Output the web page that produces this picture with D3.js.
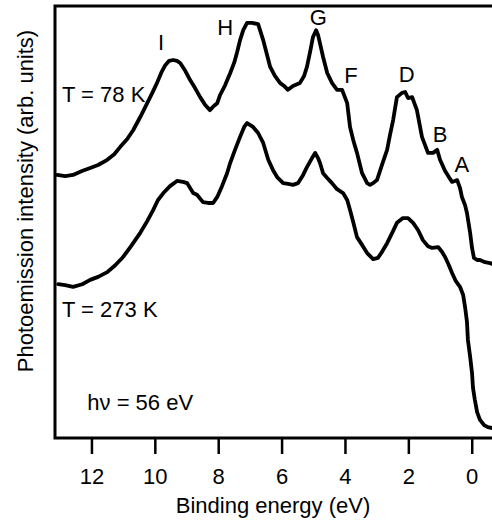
<!DOCTYPE html>
<html>
<head>
<meta charset="utf-8">
<script src="https://cdn.jsdelivr.net/npm/d3@7"></script>
<style>
	html, body { margin: 0; padding: 0; background: #fff; }
	svg text { font-family: "Liberation Sans", Arial, Helvetica, sans-serif; fill: #000; }
</style>
</head>
<body>
<div id="graphic"></div>
<script>
// Spectra (binding energy in eV, intensity in arb. units)
const energy78 = [13.08, 12.83, 12.58, 12.30, 12.04, 11.79, 11.50, 11.28, 11.09, 10.87, 10.68, 10.46, 10.24, 10.08, 9.93, 9.80, 9.67, 9.55, 9.42, 9.30, 9.20, 9.04, 8.89, 8.73, 8.57, 8.41, 8.26, 8.13, 8.03, 7.94, 7.78, 7.62, 7.49, 7.40, 7.31, 7.21, 7.09, 6.93, 6.74, 6.58, 6.46, 6.36, 6.21, 6.05, 5.92, 5.80, 5.64, 5.42, 5.29, 5.20, 5.10, 5.01, 4.91, 4.85, 4.79, 4.69, 4.56, 4.41, 4.25, 4.09, 3.93, 3.84, 3.74, 3.62, 3.46, 3.30, 3.21, 3.11, 2.99, 2.80, 2.67, 2.58, 2.48, 2.36, 2.20, 2.10, 2.01, 1.88, 1.73, 1.57, 1.38, 1.22, 1.09, 1.00, 0.84, 0.72, 0.62, 0.53, 0.46, 0.37, 0.31, 0.21, 0.15, 0.05, -0.01, -0.07, -0.17, -0.26, -0.42, -0.58, -0.64];
const intensity78 = [60.9, 60.6, 60.9, 61.8, 62.5, 63.2, 64.4, 65.7, 67.4, 69.2, 71.3, 74.3, 77.5, 79.9, 82.2, 84.5, 86.3, 87.3, 87.5, 87.3, 86.8, 85.0, 82.9, 81.0, 78.9, 77.1, 75.9, 76.9, 77.5, 79.4, 81.7, 84.5, 87.0, 89.4, 92.1, 94.4, 96.1, 96.1, 95.8, 92.1, 88.7, 85.9, 83.8, 82.2, 81.5, 80.6, 81.5, 82.2, 83.8, 85.9, 89.4, 92.8, 94.4, 93.3, 91.4, 88.2, 84.5, 82.2, 80.6, 80.6, 77.5, 72.0, 69.0, 66.0, 61.3, 59.0, 58.6, 59.0, 59.7, 63.9, 66.7, 70.1, 73.6, 78.9, 79.9, 80.1, 78.7, 78.9, 75.9, 69.7, 66.0, 66.0, 66.7, 64.4, 61.8, 60.4, 59.3, 59.5, 59.7, 57.9, 55.8, 53.9, 52.1, 47.5, 44.0, 41.7, 41.2, 41.2, 40.7, 40.5, 40.3];

const energy273 = [13.05, 12.83, 12.58, 12.29, 12.04, 11.79, 11.50, 11.25, 11.00, 10.75, 10.46, 10.24, 10.05, 9.90, 9.73, 9.52, 9.30, 9.11, 8.98, 8.79, 8.67, 8.48, 8.32, 8.16, 8.03, 7.88, 7.72, 7.62, 7.47, 7.31, 7.18, 7.09, 6.90, 6.74, 6.58, 6.42, 6.27, 6.14, 5.95, 5.79, 5.64, 5.48, 5.32, 5.20, 5.04, 4.94, 4.85, 4.79, 4.69, 4.56, 4.41, 4.25, 4.06, 3.93, 3.84, 3.74, 3.62, 3.46, 3.30, 3.11, 2.96, 2.83, 2.67, 2.51, 2.36, 2.17, 2.01, 1.85, 1.69, 1.54, 1.38, 1.25, 1.06, 0.94, 0.84, 0.72, 0.62, 0.50, 0.37, 0.27, 0.21, 0.15, 0.12, 0.05, -0.01, -0.04, -0.10, -0.17, -0.26, -0.39, -0.51, -0.64];
const intensity273 = [35.6, 35.4, 35.0, 35.6, 36.6, 37.3, 38.4, 40.0, 41.9, 44.4, 47.5, 50.2, 52.8, 55.1, 56.7, 58.3, 59.5, 59.3, 59.0, 56.7, 56.3, 54.6, 54.4, 54.4, 55.8, 58.3, 61.3, 63.7, 66.7, 69.7, 72.0, 72.9, 72.0, 70.6, 68.3, 64.4, 62.0, 60.4, 59.0, 58.8, 58.6, 59.0, 60.9, 62.7, 64.8, 66.0, 64.8, 63.7, 61.3, 60.2, 59.0, 57.6, 56.7, 55.1, 52.8, 50.0, 46.5, 44.7, 42.8, 41.4, 41.7, 43.1, 45.1, 47.5, 49.8, 50.9, 50.9, 49.8, 48.1, 45.8, 44.4, 44.0, 44.2, 43.1, 41.9, 40.0, 38.2, 36.3, 35.0, 33.1, 30.3, 26.9, 22.7, 18.8, 15.0, 11.6, 8.8, 6.0, 4.2, 3.0, 2.5, 2.3];

const xTicks = [12, 10, 8, 6, 4, 2, 0];

// peak letters: [label, energy, intensity]
const peakLabels = [
	['I', 9.80, 89.8],
	['H', 7.78, 93.3],
	['G', 4.84, 95.6],
	['F', 3.81, 82.2],
	['D', 2.05, 82.4],
	['B', 1.00, 68.5],
	['A', 0.31, 61.6]
];

// notes: [text, energy, intensity]
const notes = [
	['T = 78 K', 12.93, 77.8],
	['T = 273 K', 12.93, 28.0],
	['hν = 56 eV', 12.13, 6.5]
];

const xLabel = 'Binding energy (eV)';
const yLabel = 'Photoemission intensity (arb. units)';

const width = 492, height = 520;
const margin = { top: 6, right: 0, bottom: 82, left: 55 };
const fontSize = 22;

const svg = d3.select('#graphic')
	.append('svg')
	.attr('width', width)
	.attr('height', height);

const x = d3.scaleLinear()
	.domain([13.15, -0.64])
	.range([margin.left, width - margin.right]);

const y = d3.scaleLinear()
	.domain([0, 100])
	.range([height - margin.bottom, margin.top]);

const series = [
	d3.zip(energy78, intensity78),
	d3.zip(energy273, intensity273)
];

const line = d3.line()
	.x(d => x(d[0]))
	.y(d => y(d[1]))
	.curve(d3.curveLinear);

svg.append('defs')
	.append('clipPath')
	.attr('id', 'plot-clip')
	.append('rect')
	.attr('x', margin.left)
	.attr('y', margin.top)
	.attr('width', width - margin.left - margin.right)
	.attr('height', height - margin.top - margin.bottom);

svg.append('g')
	.attr('clip-path', 'url(#plot-clip)')
	.selectAll('path')
	.data(series)
	.join('path')
	.attr('fill', 'none')
	.attr('stroke', '#000')
	.attr('stroke-width', 3.8)
	.style('stroke-linejoin', 'round')
	.style('stroke-linecap', 'round')
	.attr('d', line);

// bottom axis with outward ticks
const xAxis = svg.append('g')
	.attr('transform', `translate(0, ${height - margin.bottom})`)
	.call(d3.axisBottom(x)
		.tickValues(xTicks)
		.tickSize(16)
		.tickPadding(14)
		.tickSizeOuter(0)
		.tickFormat(d3.format('d')));

xAxis.select('.domain').remove();
xAxis.selectAll('.tick line')
	.attr('stroke', '#000')
	.attr('stroke-width', 2.5);
xAxis.selectAll('.tick text')
	.attr('font-size', fontSize)
	.style('font-family', '"Liberation Sans", Arial, sans-serif');

// frame: left, top and bottom lines
svg.append('path')
	.attr('fill', 'none')
	.attr('stroke', '#000')
	.attr('stroke-width', 3)
	.attr('d', `M${width},${y(100)}H${x(13.15)}V${y(0)}H${width}`);

// axis titles
svg.append('text')
	.attr('x', 273)
	.attr('y', 513)
	.attr('text-anchor', 'middle')
	.attr('font-size', fontSize)
	.text(xLabel);

svg.append('text')
	.attr('transform', 'translate(33, 201) rotate(-90)')
	.attr('text-anchor', 'middle')
	.attr('font-size', fontSize)
	.text(yLabel);

// peak letters
svg.selectAll('text.peak')
	.data(peakLabels)
	.join('text')
	.attr('class', 'peak')
	.attr('x', d => x(d[1]))
	.attr('y', d => y(d[2]))
	.attr('text-anchor', 'middle')
	.attr('font-size', fontSize)
	.text(d => d[0]);

// temperature / photon energy notes
svg.selectAll('text.note')
	.data(notes)
	.join('text')
	.attr('class', 'note')
	.attr('x', d => x(d[1]))
	.attr('y', d => y(d[2]))
	.attr('font-size', fontSize)
	.text(d => d[0]);
</script>
</body>
</html>
